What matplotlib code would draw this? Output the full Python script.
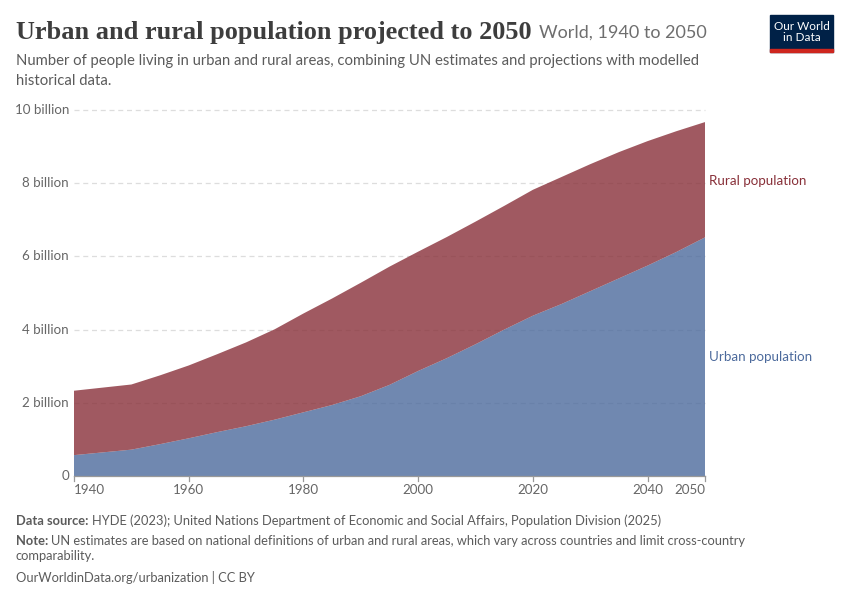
import matplotlib
matplotlib.use("Agg")
import matplotlib.pyplot as plt
from matplotlib.transforms import blended_transform_factory
from matplotlib.patches import Rectangle

# ---- data (billions) ----
years = [1940, 1950, 1955, 1960, 1965, 1970, 1975, 1980, 1985, 1990, 1995,
         2000, 2005, 2010, 2015, 2020, 2025, 2030, 2035, 2040, 2045, 2050]
urban = [0.57, 0.72, 0.87, 1.03, 1.20, 1.36, 1.54, 1.74, 1.94, 2.18, 2.49,
         2.87, 3.22, 3.60, 4.00, 4.38, 4.70, 5.05, 5.40, 5.75, 6.12, 6.52]
rural = [1.76, 1.78, 1.88, 1.99, 2.13, 2.29, 2.47, 2.70, 2.91, 3.10, 3.23,
         3.26, 3.31, 3.35, 3.38, 3.44, 3.47, 3.47, 3.45, 3.40, 3.30, 3.15]
series_names = ["Urban population", "Rural population"]
series_colors = ["#4C6A9C", "#883039"]
yticks = [0, 2, 4, 6, 8, 10]
ytick_labels = ["0", "2 billion", "4 billion", "6 billion", "8 billion", "10 billion"]
xticks = [1940, 1960, 1980, 2000, 2020, 2040, 2050]

W, H = 850, 600
fig = plt.figure(figsize=(W / 100, H / 100), dpi=100)
fig.patch.set_facecolor("white")

L, R, B, T = 74, 705, 476, 110
ax = fig.add_axes([L / W, 1 - B / H, (R - L) / W, (B - T) / H])
ax.set_xlim(1940, 2050)
ax.set_ylim(0, 10)
for s in ax.spines.values():
    s.set_visible(False)
ax.set_xticks([])
ax.set_yticks([])

ax.stackplot(years, urban, rural, colors=series_colors, alpha=0.8,
             linewidth=0, zorder=2)

grey = "#666666"
tf = blended_transform_factory(fig.transFigure, ax.transData)

# y tick labels + gridlines
for v, lab in zip(yticks, ytick_labels):
    fig.text(69 / W, v, lab, transform=tf, ha="right", va="center",
             fontsize=9.6, color=grey, family="Lato")
    if v > 0:
        ax.plot([1940, 2050], [v, v], color="#dddddd", lw=0.9,
                ls=(0, (4, 3)), clip_on=False, zorder=1)

# x axis line and ticks
ax.plot([1940, 2050], [0, 0], color="#999999", lw=0.9, clip_on=False, zorder=3)
for xv in xticks:
    ax.plot([xv, xv], [0, -0.14], color="#999999", lw=0.9, clip_on=False, zorder=3)
    if xv == 1940:
        ha = "left"
    elif xv == 2050:
        ha = "right"
    else:
        ha = "center"
    ax.text(xv, -0.22, str(xv), ha=ha, va="top", fontsize=9.6, color=grey,
            family="Lato")

# series labels
fig.text(709 / W, 1 - 181 / H, series_names[1], ha="left", va="center",
         fontsize=9.6, color=series_colors[1], family="Lato")
fig.text(709 / W, 1 - 357 / H, series_names[0], ha="left", va="center",
         fontsize=9.6, color=series_colors[0], family="Lato")

# title
fig.canvas.draw()
renderer = fig.canvas.get_renderer()
title = fig.text(16 / W, 1 - 32 / H, "Urban and rural population projected to 2050",
                 ha="left", va="center", fontsize=18.9, color="#3d3d3d",
                 family="Liberation Serif", weight="bold")
fig.canvas.draw()
tb = title.get_window_extent(renderer)
fig.text((tb.x1 + 7) / W, 1 - 33 / H, "World, 1940 to 2050", ha="left",
         va="center", fontsize=13, color="#6e6e6e", family="Lato")

fig.text(16 / W, 1 - 61 / H,
         "Number of people living in urban and rural areas, combining UN estimates and projections with modelled",
         ha="left", va="center", fontsize=10.75, color="#5b5b5b", family="Lato")
fig.text(16 / W, 1 - 81 / H, "historical data.",
         ha="left", va="center", fontsize=10.75, color="#5b5b5b", family="Lato")

# logo
fig.patches.append(Rectangle((770 / W, 1 - 52 / H), 63 / W, 37 / H,
                             transform=fig.transFigure, color="#002147"))
fig.patches.append(Rectangle((770 / W, 1 - 52 / H), 63 / W, 3 / H,
                             transform=fig.transFigure, color="#ce261e"))
fig.text(801.5 / W, 1 - 32 / H, "Our World\nin Data", ha="center", va="center",
         fontsize=8.5, color="white", family="Lato", linespacing=1.0)

# footer
fs = 9.3
fc = "#5b5b5b"
def two_part(y, bold, rest):
    t1 = fig.text(16 / W, 1 - y / H, bold, ha="left", va="center", fontsize=fs,
                  color=fc, family="Lato", weight="bold")
    fig.canvas.draw()
    b1 = t1.get_window_extent(renderer)
    fig.text((b1.x1 + 3) / W, 1 - y / H, rest, ha="left", va="center",
             fontsize=fs, color=fc, family="Lato")

two_part(521, "Data source:",
         "HYDE (2023); United Nations Department of Economic and Social Affairs, Population Division (2025)")
two_part(541, "Note:",
         "UN estimates are based on national definitions of urban and rural areas, which vary across countries and limit cross-country")
fig.text(16 / W, 1 - 556 / H, "comparability.", ha="left", va="center",
         fontsize=fs, color=fc, family="Lato")
fig.text(16 / W, 1 - 577 / H, "OurWorldinData.org/urbanization | CC BY", ha="left",
         va="center", fontsize=fs, color=fc, family="Lato")

fig.savefig("out.png", dpi=100, facecolor="white")
